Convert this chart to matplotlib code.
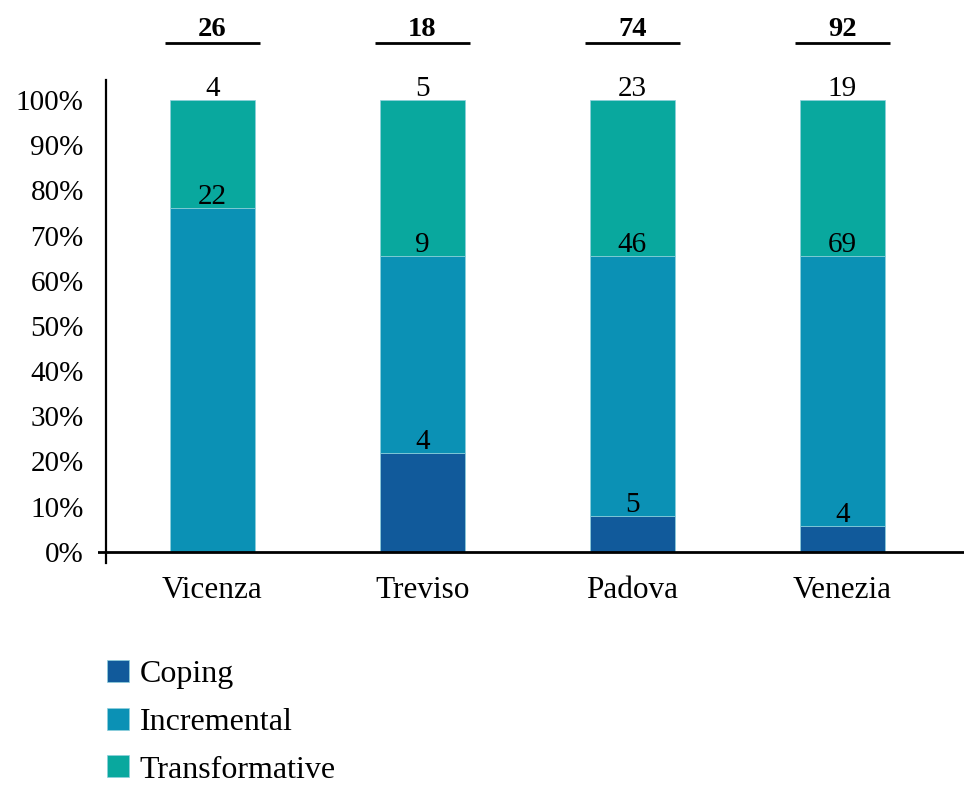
import matplotlib
matplotlib.use("Agg")
import matplotlib.pyplot as plt
import numpy as np

# data
cities = ["Vicenza", "Treviso", "Padova", "Venezia"]
series = ["Coping", "Incremental", "Transformative"]
colors = ["#115A9B", "#0B91B5", "#09A89E"]

# bar segment shares (%) as drawn
coping_pct = [0.0, 21.8, 7.9, 5.7]
incremental_pct = [76.0, 43.7, 57.6, 59.8]
transformative_pct = [24.0, 34.5, 34.5, 34.5]

# counts printed on the segments (None = no label)
coping_n = [None, 4, 5, 4]
incremental_n = [22, 9, 46, 69]
transformative_n = [4, 5, 23, 19]
totals = [26, 18, 74, 92]

plt.rcParams["font.family"] = ["Liberation Serif", "DejaVu Serif"]

fig = plt.figure(figsize=(9.64, 7.87), dpi=100)
ax = fig.add_axes([98 / 964, 1 - 563 / 787, 1 - 98 / 964, (563 - 18.7) / 787])

x = np.arange(len(cities))
width = 0.405
bottom = np.zeros(len(cities))
pcts = [coping_pct, incremental_pct, transformative_pct]
counts = [coping_n, incremental_n, transformative_n]
for name, vals, col, ns in zip(series, pcts, colors, counts):
    vals = np.array(vals)
    ax.bar(x, vals, width, bottom=bottom, color=col, label=name,
           edgecolor="#8fd0dc", linewidth=0.5)
    tops = bottom + vals
    for xi, top, n in zip(x, tops, ns):
        if n is None:
            continue
        ax.annotate(str(n), (xi, top), xytext=(0, 3), textcoords="offset points",
                    ha="center", va="baseline", fontsize=21, annotation_clip=False)
    bottom = tops

# totals with underline above each bar
for xi, t in zip(x, totals):
    ax.text(xi, 114.1, str(t), ha="center", va="baseline", fontsize=20.5,
            fontweight="bold", clip_on=False)
    ax.plot([xi - 0.226, xi + 0.226], [112.6, 112.6], color="black", lw=2,
            clip_on=False, solid_capstyle="butt")

ax.set_xlim(-0.545, 3.579)
ax.set_ylim(-2.5, 118)

ax.axhline(0, color="black", lw=2, xmin=0, xmax=1)
for s in ["top", "right", "bottom"]:
    ax.spines[s].set_visible(False)
ax.spines["left"].set_position(("data", -0.507))
ax.spines["left"].set_bounds(-2.5, 104.4)
ax.spines["left"].set_linewidth(1.6)

ax.set_yticks(np.arange(0, 101, 10))
ax.set_yticklabels([f"{v}%" for v in range(0, 101, 10)], fontsize=21)
ax.tick_params(axis="y", length=0, pad=16)
ax.set_xticks(x)
ax.set_xticklabels(cities, fontsize=22.5)
ax.tick_params(axis="x", length=0, pad=9)

ax.legend(loc="upper left", bbox_to_anchor=(107 / 964, 1 - 660 / 787),
          bbox_transform=fig.transFigure, frameon=False, fontsize=23,
          handlelength=0.68, handleheight=0.68, handletextpad=0.35,
          labelspacing=0.58, borderpad=0, borderaxespad=0)

fig.savefig("out.png", dpi=100)
